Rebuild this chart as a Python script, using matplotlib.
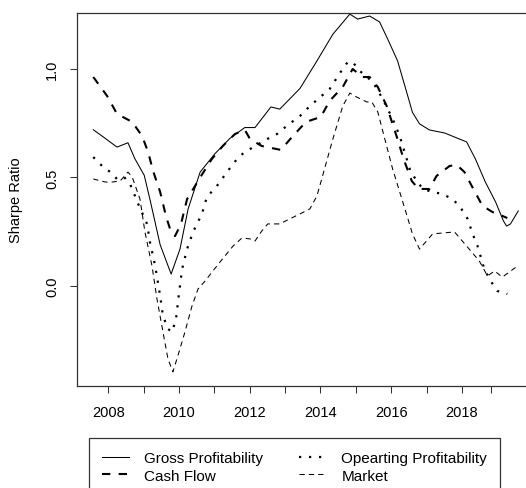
import matplotlib
matplotlib.use("Agg")
import matplotlib.pyplot as plt

plt.rcParams["font.family"] = ["Liberation Sans", "DejaVu Sans"]

# values (year, Sharpe ratio)
GP_YEAR = [2007.58, 2007.92, 2008.25, 2008.56, 2008.76, 2009.02, 2009.18, 2009.47, 2009.78,
           2010.03, 2010.26, 2010.60, 2011.02, 2011.44, 2011.86, 2012.15, 2012.60, 2012.85,
           2013.42, 2013.90, 2014.35, 2014.83, 2015.05, 2015.39, 2015.67, 2015.90, 2016.18,
           2016.41, 2016.60, 2016.80, 2017.08, 2017.51, 2017.93, 2018.13, 2018.38, 2018.66,
           2018.95, 2019.17, 2019.26, 2019.37, 2019.59]
GP_SR = [0.72, 0.68, 0.64, 0.66, 0.585, 0.51, 0.40, 0.19, 0.055,
         0.17, 0.355, 0.525, 0.61, 0.68, 0.73, 0.73, 0.825, 0.815,
         0.91, 1.037, 1.16, 1.253, 1.23, 1.244, 1.217, 1.138, 1.037,
         0.908, 0.80, 0.747, 0.719, 0.705, 0.677, 0.664, 0.585, 0.479,
         0.387, 0.30, 0.276, 0.286, 0.346]

CF_YEAR = [2007.58, 2007.97, 2008.25, 2008.68, 2008.96, 2009.13, 2009.27, 2009.47, 2009.64,
           2009.75, 2009.89, 2010.06, 2010.23, 2010.60, 2010.93, 2011.24, 2011.58, 2011.86,
           2012.01, 2012.34, 2012.88, 2013.22, 2013.59, 2014.01, 2014.26, 2014.63, 2014.91,
           2015.19, 2015.39, 2015.62, 2015.87, 2016.15, 2016.35, 2016.58, 2016.77, 2017.08,
           2017.28, 2017.65, 2017.85, 2018.07, 2018.32, 2018.58, 2018.86, 2019.14, 2019.28]
CF_SR = [0.963, 0.876, 0.793, 0.756, 0.691, 0.617, 0.53, 0.433, 0.318,
         0.263, 0.23, 0.286, 0.40, 0.50, 0.585, 0.645, 0.70, 0.72,
         0.677, 0.645, 0.627, 0.691, 0.756, 0.779, 0.853, 0.917, 1.0,
         0.963, 0.963, 0.917, 0.83, 0.691, 0.585, 0.484, 0.447, 0.447,
         0.507, 0.553, 0.558, 0.525, 0.447, 0.369, 0.341, 0.323, 0.313]

OP_YEAR = [2007.58, 2007.83, 2008.06, 2008.25, 2008.45, 2008.62, 2008.85, 2009.10, 2009.18,
           2009.33, 2009.47, 2009.55, 2009.69, 2009.81, 2009.92, 2010.00, 2010.09, 2010.23,
           2010.40, 2010.65, 2010.79, 2011.07, 2011.36, 2011.53, 2011.72, 2012.01, 2012.49,
           2012.77, 2013.08, 2013.42, 2013.70, 2013.87, 2014.26, 2014.57, 2014.77, 2014.91,
           2015.11, 2015.48, 2015.76, 2016.04, 2016.24, 2016.41, 2016.55, 2016.89, 2017.17,
           2017.45, 2017.73, 2017.93, 2018.16, 2018.30, 2018.44, 2018.63, 2018.83, 2019.00,
           2019.28]
OP_SR = [0.594, 0.553, 0.525, 0.493, 0.502, 0.47, 0.378, 0.286, 0.203,
         0.092, -0.046, -0.138, -0.198, -0.212, -0.15, -0.037, 0.078, 0.17,
         0.249, 0.332, 0.41, 0.46, 0.525, 0.562, 0.60, 0.631, 0.677,
         0.70, 0.742, 0.783, 0.829, 0.853, 0.908, 0.986, 1.032, 1.032,
         0.991, 0.94, 0.862, 0.77, 0.691, 0.60, 0.525, 0.447, 0.433,
         0.424, 0.40, 0.369, 0.309, 0.24, 0.184, 0.078, 0.018, -0.023,
         -0.037]

MKT_YEAR = [2007.58, 2007.92, 2008.11, 2008.34, 2008.56, 2008.68, 2008.90, 2009.04, 2009.24,
            2009.38, 2009.55, 2009.69, 2009.83, 2010.03, 2010.17, 2010.37, 2010.54, 2010.74,
            2010.96, 2011.16, 2011.53, 2011.78, 2012.01, 2012.15, 2012.34, 2012.51, 2012.85,
            2013.13, 2013.42, 2013.70, 2013.90, 2014.06, 2014.35, 2014.63, 2014.83, 2015.02,
            2015.31, 2015.45, 2015.62, 2015.84, 2016.04, 2016.24, 2016.43, 2016.60, 2016.80,
            2017.17, 2017.79, 2018.49, 2018.72, 2018.92, 2019.14, 2019.57]
MKT_SR = [0.493, 0.479, 0.479, 0.484, 0.525, 0.502, 0.40, 0.249, 0.092,
          -0.06, -0.212, -0.336, -0.396, -0.29, -0.212, -0.092, -0.014, 0.023,
          0.069, 0.11, 0.184, 0.221, 0.217, 0.207, 0.253, 0.286, 0.286,
          0.309, 0.332, 0.355, 0.415, 0.507, 0.677, 0.829, 0.889, 0.871,
          0.848, 0.848, 0.802, 0.664, 0.539, 0.433, 0.332, 0.24, 0.17,
          0.24, 0.249, 0.115, 0.046, 0.069, 0.041, 0.092]

LABELS = ["Gross Profitability", "Opearting Profitability", "Cash Flow", "Market"]
X_TICKS = [2008, 2009, 2010, 2011, 2012, 2013, 2014, 2015, 2016, 2017, 2018, 2018.83]
Y_TICKS = [0.0, 0.5, 1.0]

fig = plt.figure(figsize=(5.26, 4.89), dpi=100)
ax = fig.add_axes([77 / 526, 102 / 489, 458.6 / 526, 373 / 489])

gp, = ax.plot(GP_YEAR, GP_SR, color="black", lw=0.75, linestyle="-")
cf, = ax.plot(CF_YEAR, CF_SR, color="black", lw=1.5, linestyle=(0, (4, 4)))
op, = ax.plot(OP_YEAR, OP_SR, color="black", lw=1.6, linestyle=(0, (1, 3.5)))
mkt, = ax.plot(MKT_YEAR, MKT_SR, color="black", lw=0.75, linestyle=(0, (5, 4)))

ax.set_xlim(2007.12, 2020.08)
ax.set_ylim(-0.461, 1.258)

ax.set_xticks(X_TICKS)
ax.set_xticklabels([str(int(t)) if t % 2 == 0 else "" for t in X_TICKS])
ax.set_yticks(Y_TICKS)
ax.set_yticklabels(["%.1f" % v for v in Y_TICKS], rotation=90, va="center")
ax.tick_params(axis="both", length=5, width=0.75, color="#333333", labelsize=10.5)
ax.tick_params(axis="x", pad=9)
ax.tick_params(axis="y", pad=8)

for s in ax.spines.values():
    s.set_linewidth(0.9)
    s.set_color("#333333")

ax.set_ylabel("Sharpe Ratio", fontsize=10.5)
ax.yaxis.set_label_coords(-0.118, 0.5)

leg = fig.legend([gp, cf, op, mkt], [LABELS[0], LABELS[2], LABELS[1], LABELS[3]],
                 ncol=2, loc="upper left",
                 bbox_to_anchor=(89 / 526, 1 - 439 / 489 - 0.2, 411 / 526, 0.2),
                 mode="expand", borderaxespad=0, frameon=True, fancybox=False,
                 edgecolor="black", fontsize=11, handlelength=1.8,
                 handletextpad=0.95, labelspacing=0.25, borderpad=0.85)
leg.get_frame().set_linewidth(0.9)

fig.savefig("out.png", dpi=100)
